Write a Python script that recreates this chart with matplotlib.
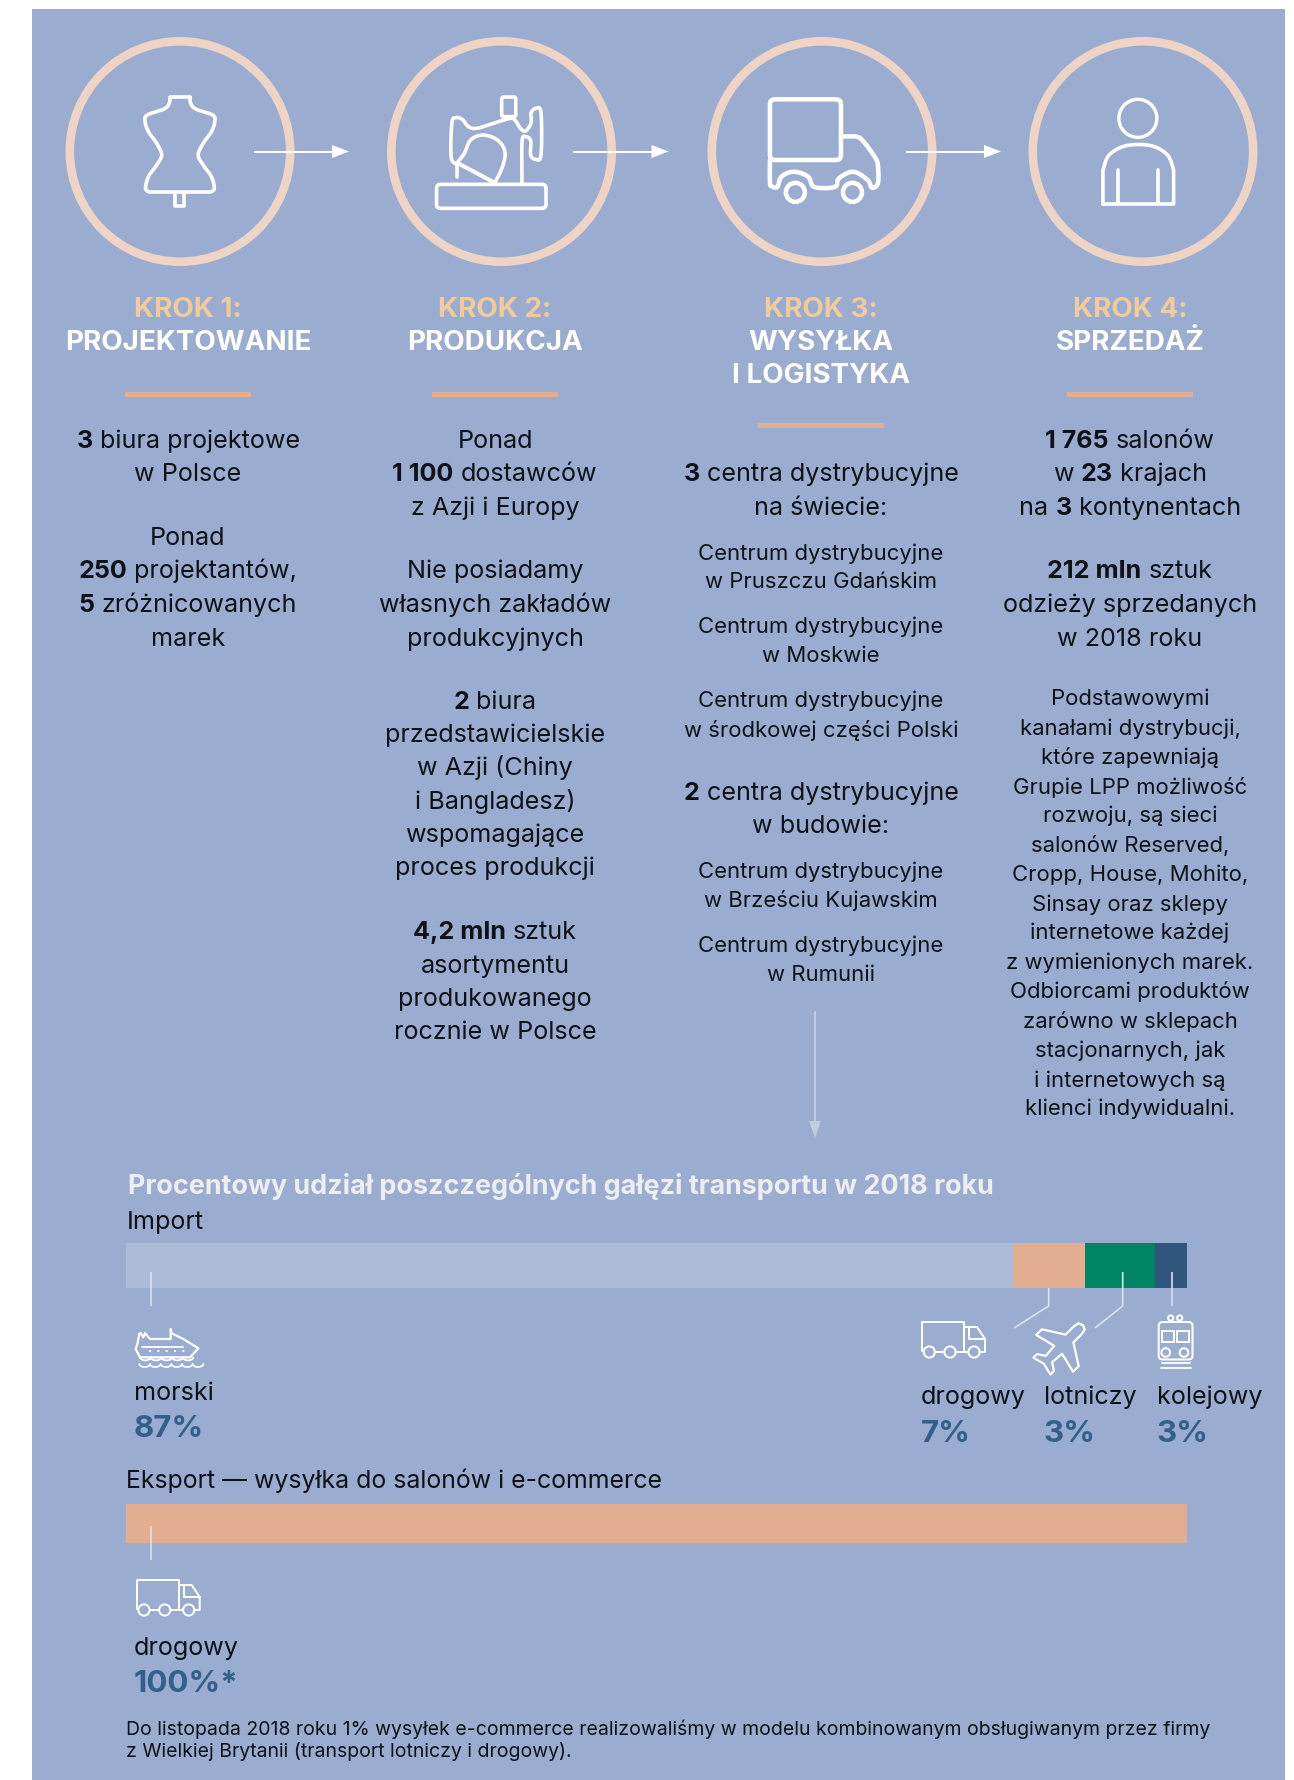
import re
import numpy as np
import matplotlib
matplotlib.use("Agg")
import matplotlib.pyplot as plt
from matplotlib.patches import Rectangle, Circle, FancyBboxPatch, Polygon

W, H = 1294, 1781
FONT = "Inter"
BG = "#9aadd0"; RING = "#efd4c5"; KROK = "#f3cb9b"; RULE = "#e2ae8f"
INK = "#0e1116"; PCT = "#33608a"; LEAD = "#dbe1ee"

# ---------- data ----------
import_labels = ["morski", "drogowy", "lotniczy", "kolejowy"]
import_pct = ["87%", "7%", "3%", "3%"]
import_widths = [83.6, 6.8, 6.6, 3.0]      # segment lengths as drawn
import_colors = ["#acbbd8", "#e2ae8f", "#008562", "#30567e"]
export_labels = ["drogowy"]
export_pct = ["100%*"]
export_widths = [100.0]
export_colors = ["#e2ae8f"]

step_heads = ["KROK 1:", "KROK 2:", "KROK 3:", "KROK 4:"]
step_titles = [["PROJEKTOWANIE"], ["PRODUKCJA"], ["WYSYŁKA", "I LOGISTYKA"], ["SPRZEDAŻ"]]

col1 = ["**3** biura projektowe", "w Polsce", "Ponad", "**250** projektantów,",
        "**5** zróżnicowanych", "marek"]
col2 = ["Ponad", "**1 100** dostawców", "z Azji i Europy", "Nie posiadamy",
        "własnych zakładów", "produkcyjnych", "**2** biura", "przedstawicielskie",
        "w Azji (Chiny", "i Bangladesz)", "wspomagające", "proces produkcji",
        "**4,2 mln** sztuk", "asortymentu", "produkowanego", "rocznie w Polsce"]
col3 = ["**3** centra dystrybucyjne", "na świecie:", "**2** centra dystrybucyjne", "w budowie:"]
col3s = ["Centrum dystrybucyjne", "w Pruszczu Gdańskim", "Centrum dystrybucyjne", "w Moskwie",
         "Centrum dystrybucyjne", "w środkowej części Polski", "Centrum dystrybucyjne",
         "w Brześciu Kujawskim", "Centrum dystrybucyjne", "w Rumunii"]
col4 = ["**1 765** salonów", "w **23** krajach", "na **3** kontynentach", "**212 mln** sztuk",
        "odzieży sprzedanych", "w 2018 roku"]
col4s = ["Podstawowymi", "kanałami dystrybucji,", "które zapewniają", "Grupie LPP możliwość",
         "rozwoju, są sieci", "salonów Reserved,", "Cropp, House, Mohito,", "Sinsay oraz sklepy",
         "internetowe każdej", "z wymienionych marek.", "Odbiorcami produktów",
         "zarówno w sklepach", "stacjonarnych, jak", "i internetowych są", "klienci indywidualni."]

title = "Procentowy udział poszczególnych gałęzi transportu w 2018 roku"
note = ["Do listopada 2018 roku 1% wysyłek e-commerce realizowaliśmy w modelu kombinowanym obsługiwanym przez firmy",
        "z Wielkiej Brytanii (transport lotniczy i drogowy)."]

# ---------- layout (pixels of the reference) ----------
S = 1294 / 1139
col_x = [188, 495, 821, 1130]
y1 = [387, 416, 472, 501, 531, 561]
y2 = [387, 416, 446, 501, 531, 561, 617, 646, 675, 705, 734, 763, 819, 849, 878, 907]
y3 = [416, 446, 697, 726]
y3s = [486, 511, 551, 576, 616, 642, 766, 792, 831, 857]
y4 = [387, 416, 446, 501, 531, 561]
y4s = [614, 640, 666, 692, 717, 743, 769, 795, 820, 846, 872, 898, 924, 950, 975]
rule_y = [348, 348, 375, 348]
BODY, SMALL, HEAD, TITLE, PCTS, NOTE = 18.1, 15.9, 20.0, 19.4, 22.5, 14.0

fig = plt.figure(figsize=(W / 100, H / 100), dpi=100, facecolor="white")
ax = fig.add_axes([0, 0, 1, 1], zorder=1)
ax.set_xlim(0, W); ax.set_ylim(H, 0); ax.axis("off")
ax.add_patch(Rectangle((32, 9.5), 1253, H - 9, fc=BG, ec="none"))

ov = fig.add_axes([0, 0, 1, 1], zorder=3)
ov.set_xlim(0, W); ov.set_ylim(H, 0); ov.axis("off"); ov.patch.set_alpha(0)
renderer = fig.canvas.get_renderer()


def text_w(s, size, weight):
    t = ov.text(0, 0, s, fontsize=size, fontweight=weight, family=FONT)
    w = t.get_window_extent(renderer).width
    t.remove()
    return w


def rich(cx, base, s, size, color=INK):
    parts = [p for p in re.split(r"(\*\*.+?\*\*)", s) if p]
    runs = []
    sp = text_w("x x", size, "normal") - text_w("xx", size, "normal")
    total = 0
    for p in parts:
        bold = p.startswith("**")
        raw = p.strip("*") if bold else p
        lead = sp if raw.startswith(" ") else 0
        trail = sp if raw.endswith(" ") else 0
        wd = text_w(raw.strip(), size, "bold" if bold else "normal")
        runs.append((raw.strip(), bold, lead, wd, trail))
        total += lead + wd + trail
    x = cx - total / 2
    for raw, bold, lead, wd, trail in runs:
        x += lead
        ov.text(x, base, raw, fontsize=size, family=FONT, color=color,
                fontweight="bold" if bold else "normal", va="baseline", ha="left")
        x += wd + trail


def base(y):
    return y * S + 8.5


def cr(pts, closed=False, n=10):
    """Smooth outline through icon anchor points."""
    p = np.array(pts, float)
    p = np.vstack([p[0], p, p[-1]])
    out = []
    for i in range(1, len(p) - 2):
        a, b, c, d = p[i - 1], p[i], p[i + 1], p[i + 2]
        for t in np.linspace(0, 1, n, endpoint=False):
            out.append(0.5 * (2 * b + (c - a) * t + (2 * a - 5 * b + 4 * c - d) * t**2
                              + (3 * b - a - 3 * c + d) * t**3))
    out.append(p[-2])
    return np.array(out)


def stroke(arr, lw=3.6, c="white"):
    arr = np.asarray(arr, float)
    ov.plot(arr[:, 0], arr[:, 1], color=c, lw=lw * 0.72, solid_capstyle="round",
            solid_joinstyle="round")


def rrect(x0, y0, x1, y1, r, lw=3.6):
    ov.add_patch(FancyBboxPatch((x0 + r, y0 + r), x1 - x0 - 2 * r, y1 - y0 - 2 * r,
                                boxstyle=f"round,pad={r}", fc="none", ec="white", lw=lw * 0.72))


# ---------- circles and arrows ----------
CY = 152.5
for cx in [180, 501.5, 822, 1143]:
    ov.add_patch(Circle((cx, CY), 110.2, fc="none", ec=RING, lw=8.6 * 0.72))
for x0, x1 in [(254.5, 349), (574, 668.5), (906.7, 1001)]:
    ov.plot([x0, x1 - 14], [CY, CY], color="white", lw=1.4)
    ov.add_patch(Polygon([[x1, CY], [x1 - 17, CY - 6.5], [x1 - 17, CY + 6.5]], fc="white", ec="none"))

# ---------- big icons ----------
Z1 = lambda pts: np.array(pts, float) / [2.412, 3] + [0, 1]
Z2 = lambda pts: np.array(pts, float) / [2.435, 3] + [650, 1]
# dress form
half = [(458, 291), (460, 310), (472, 327), (513, 345), (518, 365), (510, 395), (490, 430),
        (478, 465), (490, 495), (510, 530), (517, 565), (508, 576)]
right = Z1(half)
cx0 = 434 / 2.412
left = right[::-1] * [-1, 1] + [2 * cx0, 0]
stroke(np.vstack([cr(right), cr(left), right[:1]]))
stroke(Z1([(422, 578), (422, 619), (445, 619), (445, 578)]))
# sewing machine
rrect(*Z1([(1053, 553)])[0], *Z1([(1317, 625)])[0], 4)
stroke(cr(Z1([(1259, 553), (1259, 425), (1268, 410), (1280, 422), (1280, 465), (1292, 478), (1305, 465),
              (1305, 338), (1293, 325), (1281, 338), (1281, 368), (1268, 393), (1255, 385), (1245, 365),
              (1232, 355), (1190, 370), (1150, 385), (1130, 380), (1115, 358), (1100, 353), (1090, 368),
              (1088, 470), (1100, 492)]), n=6))
stroke(cr(Z1([(1100, 492), (1120, 460), (1135, 420), (1165, 405), (1200, 420), (1218, 455),
              (1212, 500), (1193, 550)]), n=6))
stroke(Z1([(1105, 490), (1193, 548)]), lw=4)
stroke(Z1([(1102, 490), (1102, 530)]))
rrect(*Z1([(1210, 291)])[0], *Z1([(1244, 350)])[0], 2)
# truck
rrect(*Z2([(292, 298)])[0], *Z2([(465, 480)])[0], 5, lw=4.5)
stroke(cr(Z2([(465, 410), (503, 410), (520, 425), (548, 472), (555, 497), (555, 550), (540, 563),
              (530, 540), (495, 515), (460, 535), (450, 561), (400, 561), (385, 530), (350, 515),
              (320, 530), (310, 561), (295, 558), (292, 545), (292, 480)]), n=6), lw=4.5)
for wx in [354, 493]:
    c = Z2([(wx, 577)])[0]
    ov.add_patch(Circle(c, 9.5, fc="none", ec="white", lw=4.5 * 0.72))
# person
ov.add_patch(Circle(Z2([(1188, 355)])[0], 19, fc="none", ec="white", lw=3.4 * 0.72))
stroke(np.vstack([Z2([(1103, 612)]), cr(Z2([(1103, 510), (1118, 465), (1160, 437), (1220, 437),
                                            (1260, 465), (1275, 510)])), Z2([(1275, 612), (1103, 612)])]))
stroke(Z2([(1139, 510), (1139, 606)]))
stroke(Z2([(1238, 510), (1238, 606)]))

# ---------- step text ----------
for i, cx in enumerate(col_x):
    rich(cx, base(272) - 1, "**" + step_heads[i] + "**", HEAD, KROK)
    for j, t in enumerate(step_titles[i]):
        rich(cx, base(301 + 29 * j), "**" + t + "**", HEAD, "white")
    ov.add_patch(Rectangle((cx - 63, rule_y[i] * S - 2.5), 126, 5, fc=RULE, ec="none"))

for lines, ys, cx, sz, dy in [(col1, y1, col_x[0], BODY, 0), (col2, y2, col_x[1], BODY, 0),
                              (col3, y3, col_x[2], BODY, 0), (col3s, y3s, col_x[2], SMALL, -1),
                              (col4, y4, col_x[3], BODY, 0), (col4s, y4s, col_x[3], SMALL, -1)]:
    for s, y in zip(lines, ys):
        rich(cx, base(y) + dy, s, sz)

# vertical arrow
ov.plot([815, 815], [1013, 1126], color="#c3cde2", lw=1.4)
ov.add_patch(Polygon([[815, 1139], [809, 1122], [821, 1122]], fc="#c3cde2", ec="none"))

# ---------- transport section ----------
ov.text(127.5, 1194, title, fontsize=TITLE, fontweight="bold", family=FONT, color="#eceef2", va="baseline")
ov.text(126.5, 1229, "Import", fontsize=BODY, family=FONT, color=INK, va="baseline")
ov.text(126.5, 1488, "Eksport — wysyłka do salonów i e-commerce", fontsize=17.9, family=FONT, color=INK, va="baseline")


def bar_axes(x0, x1, y0, y1, widths, colors):
    a = fig.add_axes([x0 / W, (H - y1) / H, (x1 - x0) / W, (y1 - y0) / H], zorder=2)
    a.set_xlim(0, sum(widths)); a.set_ylim(-0.5, 0.5); a.axis("off")
    left_edge = 0
    for w, c in zip(widths, colors):
        a.barh(0, w, left=left_edge, height=1, color=c, linewidth=0)
        left_edge += w
    return a


bar_axes(126, 1187, 1244, 1289, import_widths, import_colors)
bar_axes(125.7, 1187, 1505, 1543.7, export_widths, export_colors)

for pts in [[(150.7, 1273), (150.7, 1307)],
            [(1048.7, 1289), (1048.7, 1307), (1014, 1329)],
            [(1122.7, 1273), (1122.7, 1307), (1095, 1329)],
            [(1171.7, 1273), (1171.7, 1307)],
            [(150.7, 1527), (150.7, 1561)]]:
    p = np.array(pts)
    ov.plot(p[:, 0], p[:, 1], color=LEAD, lw=1.2, solid_capstyle="butt")

lab_x = [133.5, 921, 1043.5, 1157]
lab_y = [1400, 1404, 1404, 1404]
pct_y = [1437, 1442, 1442, 1442]
for s, p, x, y, yp in zip(import_labels, import_pct, lab_x, lab_y, pct_y):
    ov.text(x, y, s, fontsize=BODY, family=FONT, color=INK, va="baseline")
    ov.text(x, yp, p, fontsize=PCTS, family=FONT, color=PCT, fontweight="bold", va="baseline")
ov.text(133.5, 1655, export_labels[0], fontsize=BODY, family=FONT, color=INK, va="baseline")
ov.text(133.5, 1692, export_pct[0], fontsize=PCTS, family=FONT, color=PCT, fontweight="bold", va="baseline")
for s, y in zip(note, [1735, 1757]):
    ov.text(125.5, y, s, fontsize=NOTE, family=FONT, color=INK, va="baseline")


# small truck
def small_truck(dx, dy):
    LW = 2.0
    stroke(np.array([(922, 1352), (922, 1323), (964, 1323), (964, 1352)]) + [dx, dy], lw=LW)
    stroke(np.array([(964, 1328), (977, 1328), (985, 1340), (985, 1353), (980, 1353)]) + [dx, dy], lw=LW)
    stroke(np.array([(969, 1328), (969, 1340), (985, 1340)]) + [dx, dy], lw=LW)
    for a, b in [(935, 944), (956, 968)]:
        stroke(np.array([(a, 1353), (b, 1353)]) + [dx, dy], lw=LW)
    for wx in [929.3, 950, 974]:
        ov.add_patch(Circle((wx + dx, 1353 + dy), 5.6, fc="none", ec="white", lw=2.0 * 0.72))


small_truck(0, 0)
small_truck(-785.3, 258)

# plane (nose up, then rotated 45 degrees)
pl = [(0, -31), (4.5, -29), (5.5, -24), (5.5, -12), (26, 1), (26, 9), (5.5, 4), (4.5, 17), (12, 22), (12, 27),
      (0, 24), (-12, 27), (-12, 22), (-4.5, 17), (-5.5, 4), (-26, 9), (-26, 1), (-5.5, -12), (-5.5, -24), (-4.5, -29), (0, -31)]
ang = np.deg2rad(45)
R = np.array([[np.cos(ang), -np.sin(ang)], [np.sin(ang), np.cos(ang)]])
stroke((np.array(pl) @ R.T) + [1061, 1348], lw=2.2)

# train
rrect(1158.7, 1323, 1192.5, 1360.5, 4, lw=2)
for x0, x1 in [(1162, 1173.5), (1177, 1188.5)]:
    ov.add_patch(Rectangle((x0, 1332), x1 - x0, 10.5, fc="none", ec="white", lw=1.4))
for x, y, r in [(1165.7, 1353.5, 4.3), (1184, 1353.5, 4.3), (1170.7, 1319, 2.6), (1179.7, 1319, 2.6)]:
    ov.add_patch(Circle((x, y), r, fc="none", ec="white", lw=1.4))
stroke([(1162, 1364), (1190, 1364)], lw=1.8)
stroke([(1160.5, 1369), (1191, 1369)], lw=1.8)

# ship
Z3 = lambda pts: np.array(pts, float) / 3 + [100, 1150]
stroke(Z3([(118, 555), (112, 585), (107, 600), (120, 625), (270, 625), (295, 598), (250, 570), (215, 553),
           (212, 540), (212, 570), (150, 570), (135, 552), (130, 565), (122, 552), (118, 555)]), lw=2.2)
stroke(Z3([(125, 593), (250, 593)]), lw=1.8)
for x in [150, 175, 200, 225, 250]:
    ov.add_patch(Circle(Z3([(x, 606)])[0], 1.1, fc="white", ec="none"))
for yw, xs in [(625, np.arange(120, 270, 32)), (645, np.arange(118, 280, 32))]:
    for x in xs:
        c = Z3([(x + 16, yw)])[0]
        t = np.linspace(0, np.pi, 12)
        stroke(np.c_[c[0] + 5.3 * np.cos(t), c[1] + 3 * np.sin(t)], lw=1.8)

fig.savefig("out.png", dpi=100, facecolor="white")
